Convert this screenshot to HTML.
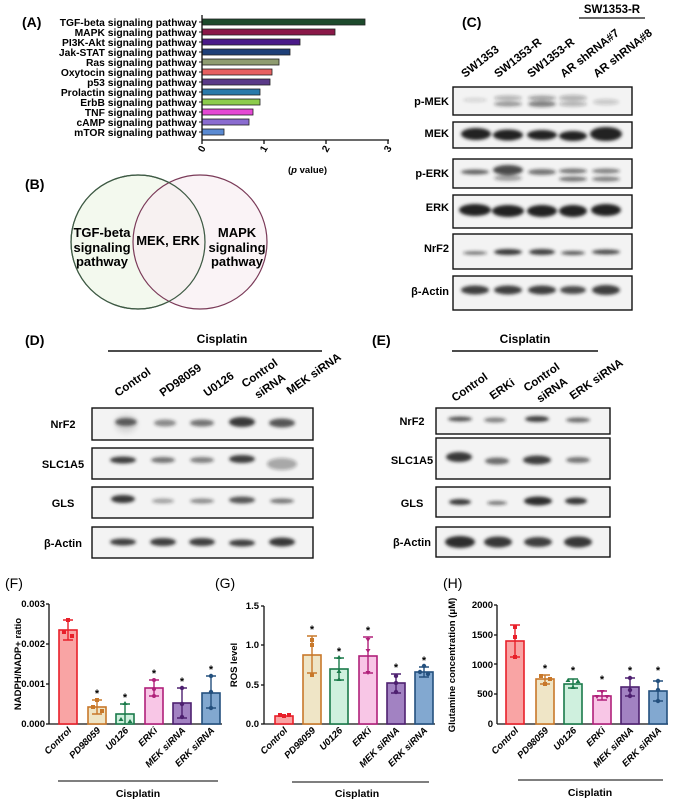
<!DOCTYPE html>
<html><head><meta charset="utf-8"><style>
html,body{margin:0;padding:0;background:#fff;}
svg{display:block;font-family:"Liberation Sans",Arial,sans-serif;font-weight:bold;}
</style></head><body>
<svg width="678" height="800" viewBox="0 0 678 800" xmlns="http://www.w3.org/2000/svg">
<defs>
<filter id="bl" x="-50%" y="-100%" width="200%" height="300%"><feGaussianBlur stdDeviation="1.6"/></filter>
<filter id="bl2" x="-50%" y="-100%" width="200%" height="300%"><feGaussianBlur stdDeviation="2.5"/></filter>
</defs>
<rect width="678" height="800" fill="#fff"/>

<!-- Panel A -->
<text x="22" y="27" font-size="14">(A)</text>
<g font-size="10.3" text-anchor="end">
<text x="197" y="26">TGF-beta signaling pathway</text>
<text x="197" y="36">MAPK signaling pathway</text>
<text x="197" y="46">PI3K-Akt signaling pathway</text>
<text x="197" y="56">Jak-STAT signaling pathway</text>
<text x="197" y="66">Ras signaling pathway</text>
<text x="197" y="76">Oxytocin signaling pathway</text>
<text x="197" y="86">p53 signaling pathway</text>
<text x="197" y="96">Prolactin signaling pathway</text>
<text x="197" y="106">ErbB signaling pathway</text>
<text x="197" y="116">TNF signaling pathway</text>
<text x="197" y="126">cAMP signaling pathway</text>
<text x="197" y="136">mTOR signaling pathway</text>
</g>
<g stroke="#222" stroke-width="0.8">
<rect x="202" y="19" width="163" height="6" fill="#1d4a2c"/>
<rect x="202" y="29" width="133" height="6" fill="#8a1848"/>
<rect x="202" y="39" width="98" height="6" fill="#4a1a88"/>
<rect x="202" y="49" width="88" height="6" fill="#1e3f78"/>
<rect x="202" y="59" width="77" height="6" fill="#8f9c70"/>
<rect x="202" y="69" width="70" height="6" fill="#e66060"/>
<rect x="202" y="79" width="68" height="6" fill="#5a3a88"/>
<rect x="202" y="89" width="58" height="6" fill="#2a7aaa"/>
<rect x="202" y="99" width="58" height="6" fill="#8ccc4c"/>
<rect x="202" y="109" width="51" height="6" fill="#e448d4"/>
<rect x="202" y="119" width="47" height="6" fill="#8a6cd0"/>
<rect x="202" y="129" width="22" height="6" fill="#5a8ad2"/>
</g>
<g stroke="#111" stroke-width="1.3" fill="none">
<line x1="202" y1="15" x2="202" y2="140"/>
<line x1="202" y1="140" x2="389" y2="140"/>
<line x1="202" y1="140" x2="202" y2="144"/><line x1="264" y1="140" x2="264" y2="144"/>
<line x1="326" y1="140" x2="326" y2="144"/><line x1="388" y1="140" x2="388" y2="144"/>
</g>
<g stroke="#111" stroke-width="1">
<line x1="199" y1="22" x2="202" y2="22"/><line x1="199" y1="32" x2="202" y2="32"/><line x1="199" y1="42" x2="202" y2="42"/><line x1="199" y1="52" x2="202" y2="52"/><line x1="199" y1="62" x2="202" y2="62"/><line x1="199" y1="72" x2="202" y2="72"/><line x1="199" y1="82" x2="202" y2="82"/><line x1="199" y1="92" x2="202" y2="92"/><line x1="199" y1="102" x2="202" y2="102"/><line x1="199" y1="112" x2="202" y2="112"/><line x1="199" y1="122" x2="202" y2="122"/><line x1="199" y1="132" x2="202" y2="132"/>
</g>
<g font-size="10">
<text transform="translate(206,148) rotate(-60)" text-anchor="end">0</text>
<text transform="translate(268,148) rotate(-60)" text-anchor="end">1</text>
<text transform="translate(330,148) rotate(-60)" text-anchor="end">2</text>
<text transform="translate(392,148) rotate(-60)" text-anchor="end">3</text>
</g>
<text x="288" y="173" font-size="9.5">(<tspan font-style="italic">p</tspan> value)</text>

<!-- Panel B -->
<text x="25" y="189" font-size="14">(B)</text>
<circle cx="138" cy="242" r="67" fill="#f3f9ee" stroke="#3e5a44" stroke-width="1.2"/>
<circle cx="200" cy="242" r="67" fill="#f8eef2" fill-opacity="0.7" stroke="#7a3a58" stroke-width="1.2"/>
<circle cx="138" cy="242" r="67" fill="none" stroke="#3e5a44" stroke-width="1.2"/>
<g font-size="13" text-anchor="middle">
<text x="102" y="237">TGF-beta</text><text x="102" y="252">signaling</text><text x="102" y="266">pathway</text>
<text x="168" y="245">MEK, ERK</text>
<text x="237" y="237">MAPK</text><text x="237" y="252">signaling</text><text x="237" y="266">pathway</text>
</g>

<!-- Panel C -->
<text x="462" y="27" font-size="14">(C)</text>
<text x="612" y="13" font-size="11.5" text-anchor="middle">SW1353-R</text>
<line x1="579" y1="18" x2="645" y2="18" stroke="#111" stroke-width="1.3"/>
<g font-size="11.5">
<text transform="translate(465,78) rotate(-38)">SW1353</text>
<text transform="translate(498,78) rotate(-38)">SW1353-R</text>
<text transform="translate(531,78) rotate(-38)">SW1353-R</text>
<text transform="translate(564,78) rotate(-38)">AR shRNA#7</text>
<text transform="translate(597,78) rotate(-38)">AR shRNA#8</text>
</g>
<g font-size="11" text-anchor="end">
<text x="449" y="105">p-MEK</text><text x="449" y="137">MEK</text><text x="449" y="177">p-ERK</text>
<text x="449" y="211">ERK</text><text x="449" y="252">NrF2</text><text x="449" y="295">β-Actin</text>
</g>
<g fill="#f3f3f3" stroke="#111" stroke-width="1.4">
<rect x="453" y="87" width="179" height="28"/><rect x="453" y="122" width="179" height="26"/>
<rect x="453" y="159" width="179" height="29"/><rect x="453" y="195" width="179" height="33"/>
<rect x="453" y="234" width="179" height="35"/><rect x="453" y="276" width="179" height="34"/>
</g>
<g filter="url(#bl)" fill="#222">
<ellipse cx="475" cy="100" rx="12" ry="2" opacity="0.15"/><ellipse cx="508" cy="98" rx="14" ry="2.5" opacity="0.3"/><ellipse cx="508" cy="104" rx="14" ry="2.5" opacity="0.45"/><ellipse cx="542" cy="98" rx="14" ry="2.5" opacity="0.4"/><ellipse cx="542" cy="104" rx="14" ry="3" opacity="0.55"/><ellipse cx="573" cy="98" rx="14" ry="3" opacity="0.3"/><ellipse cx="573" cy="104" rx="14" ry="2.5" opacity="0.3"/><ellipse cx="606" cy="102" rx="13" ry="3" opacity="0.2"/>
<ellipse cx="476" cy="134" rx="15" ry="6"/><ellipse cx="508" cy="135" rx="15" ry="5.5"/><ellipse cx="542" cy="135" rx="15" ry="5"/><ellipse cx="573" cy="136" rx="14" ry="5"/><ellipse cx="606" cy="134" rx="16" ry="7"/>
<ellipse cx="475" cy="172" rx="14" ry="2.5" opacity="0.7"/><ellipse cx="508" cy="170" rx="15" ry="5" opacity="0.8"/><ellipse cx="508" cy="178" rx="14" ry="3" opacity="0.4"/><ellipse cx="542" cy="172" rx="14" ry="3" opacity="0.6"/><ellipse cx="573" cy="171" rx="14" ry="2.5" opacity="0.6"/><ellipse cx="573" cy="179" rx="14" ry="2.5" opacity="0.6"/><ellipse cx="606" cy="171" rx="14" ry="2.5" opacity="0.55"/><ellipse cx="606" cy="179" rx="14" ry="2.5" opacity="0.55"/>
<ellipse cx="475" cy="210" rx="16" ry="6"/><ellipse cx="508" cy="211" rx="16" ry="6"/><ellipse cx="542" cy="211" rx="15" ry="6"/><ellipse cx="573" cy="211" rx="14" ry="6"/><ellipse cx="606" cy="210" rx="15" ry="6"/>
<ellipse cx="475" cy="253" rx="12" ry="1.8" opacity="0.6"/><ellipse cx="508" cy="252" rx="14" ry="3" opacity="0.9"/><ellipse cx="542" cy="252" rx="13" ry="3" opacity="0.85"/><ellipse cx="573" cy="253" rx="12" ry="2" opacity="0.75"/><ellipse cx="606" cy="252" rx="14" ry="2.5" opacity="0.8"/>
<ellipse cx="475" cy="290" rx="14" ry="4.5" opacity="0.85"/><ellipse cx="508" cy="290" rx="14" ry="4.5" opacity="0.85"/><ellipse cx="542" cy="290" rx="14" ry="4.5" opacity="0.85"/><ellipse cx="573" cy="290" rx="13" ry="4" opacity="0.8"/><ellipse cx="606" cy="290" rx="14" ry="5" opacity="0.85"/>
</g>

<!-- Panel D -->
<text x="25" y="345" font-size="14">(D)</text>
<text x="222" y="343" font-size="12" text-anchor="middle">Cisplatin</text>
<line x1="108" y1="351" x2="322" y2="351" stroke="#111" stroke-width="1.5"/>
<g font-size="11.5">
<text transform="translate(118,397) rotate(-35)">Control</text>
<text transform="translate(163,397) rotate(-35)">PD98059</text>
<text transform="translate(207,397) rotate(-35)">U0126</text>
<text transform="translate(245,388) rotate(-35)">Control</text>
<text transform="translate(258,399) rotate(-35)">siRNA</text>
<text transform="translate(290,395) rotate(-35)">MEK siRNA</text>
</g>
<g font-size="11" text-anchor="middle">
<text x="63" y="428">NrF2</text><text x="63" y="468">SLC1A5</text><text x="63" y="507">GLS</text><text x="63" y="547">β-Actin</text>
</g>
<g fill="#f3f3f3" stroke="#111" stroke-width="1.4">
<rect x="92" y="408" width="221" height="32"/><rect x="92" y="448" width="221" height="31"/>
<rect x="92" y="487" width="221" height="31"/><rect x="92" y="527" width="221" height="31"/>
</g>
<g filter="url(#bl)" fill="#222">
<ellipse cx="126" cy="424" rx="11" ry="9" opacity="0.12" filter="url(#bl2)"/><ellipse cx="126" cy="422" rx="11" ry="4" opacity="0.7"/><ellipse cx="165" cy="423" rx="11" ry="3.5" opacity="0.5"/><ellipse cx="202" cy="423" rx="12" ry="3.5" opacity="0.6"/><ellipse cx="242" cy="422" rx="13" ry="5" opacity="0.9"/><ellipse cx="282" cy="423" rx="13" ry="4.5" opacity="0.75"/>
<ellipse cx="123" cy="460" rx="13" ry="3.5" opacity="0.85"/><ellipse cx="163" cy="460" rx="12" ry="3" opacity="0.6"/><ellipse cx="202" cy="460" rx="12" ry="3" opacity="0.55"/><ellipse cx="242" cy="459" rx="13" ry="4" opacity="0.85"/><ellipse cx="282" cy="464" rx="15" ry="6" opacity="0.35"/>
<ellipse cx="123" cy="499" rx="12" ry="4" opacity="0.9"/><ellipse cx="163" cy="501" rx="11" ry="2.5" opacity="0.4"/><ellipse cx="202" cy="501" rx="12" ry="2.5" opacity="0.5"/><ellipse cx="242" cy="500" rx="13" ry="3.5" opacity="0.75"/><ellipse cx="282" cy="501" rx="12" ry="2.5" opacity="0.6"/>
<ellipse cx="123" cy="542" rx="13" ry="3.5" opacity="0.85"/><ellipse cx="163" cy="542" rx="13" ry="4" opacity="0.85"/><ellipse cx="202" cy="542" rx="13" ry="4" opacity="0.85"/><ellipse cx="242" cy="543" rx="13" ry="3.5" opacity="0.85"/><ellipse cx="282" cy="542" rx="13" ry="4.5" opacity="0.9"/>
</g>

<!-- Panel E -->
<text x="372" y="345" font-size="14">(E)</text>
<text x="525" y="343" font-size="12" text-anchor="middle">Cisplatin</text>
<line x1="452" y1="351" x2="598" y2="351" stroke="#111" stroke-width="1.5"/>
<g font-size="11.5">
<text transform="translate(455,402) rotate(-35)">Control</text>
<text transform="translate(493,400) rotate(-35)">ERKi</text>
<text transform="translate(527,392) rotate(-35)">Control</text>
<text transform="translate(540,403) rotate(-35)">siRNA</text>
<text transform="translate(573,400) rotate(-35)">ERK siRNA</text>
</g>
<g font-size="11" text-anchor="middle">
<text x="412" y="425">NrF2</text><text x="412" y="464">SLC1A5</text><text x="412" y="507">GLS</text><text x="412" y="546">β-Actin</text>
</g>
<g fill="#f3f3f3" stroke="#111" stroke-width="1.4">
<rect x="436" y="408" width="174" height="26"/><rect x="436" y="438" width="174" height="41"/>
<rect x="436" y="487" width="174" height="30"/><rect x="436" y="527" width="174" height="30"/>
</g>
<g filter="url(#bl)" fill="#222">
<ellipse cx="460" cy="419" rx="12" ry="2.5" opacity="0.75"/><ellipse cx="495" cy="420" rx="11" ry="2.5" opacity="0.55"/><ellipse cx="537" cy="419" rx="12" ry="3" opacity="0.85"/><ellipse cx="578" cy="420" rx="12" ry="2.5" opacity="0.65"/>
<ellipse cx="459" cy="457" rx="13" ry="5" opacity="0.9"/><ellipse cx="497" cy="461" rx="12" ry="3.5" opacity="0.65"/><ellipse cx="537" cy="460" rx="14" ry="4.5" opacity="0.85"/><ellipse cx="578" cy="460" rx="12" ry="3" opacity="0.6"/>
<ellipse cx="460" cy="502" rx="11" ry="3" opacity="0.9"/><ellipse cx="497" cy="503" rx="10" ry="2" opacity="0.6"/><ellipse cx="538" cy="501" rx="14" ry="4.5" opacity="0.95"/><ellipse cx="576" cy="501" rx="11" ry="3.5" opacity="0.9"/>
<ellipse cx="460" cy="542" rx="15" ry="6" opacity="0.95"/><ellipse cx="498" cy="542" rx="14" ry="5.5" opacity="0.9"/><ellipse cx="538" cy="542" rx="14" ry="5" opacity="0.85"/><ellipse cx="578" cy="542" rx="14" ry="5.5" opacity="0.9"/>
</g>

<!-- Panel F -->
<text x="5" y="588" font-size="14" font-weight="normal">(F)</text>
<text transform="translate(21,664) rotate(-90)" font-size="9.5" text-anchor="middle">NADPH/NADP+ ratio</text>
<g font-size="9.5" text-anchor="end">
<text x="45" y="607">0.003</text><text x="45" y="647">0.002</text><text x="45" y="687">0.001</text><text x="45" y="727">0.000</text>
</g>
<g stroke="#111" stroke-width="1.3">
<line x1="49" y1="604" x2="49" y2="724"/><line x1="49" y1="724" x2="222" y2="724"/>
<line x1="46" y1="604" x2="49" y2="604"/><line x1="46" y1="644" x2="49" y2="644"/><line x1="46" y1="684" x2="49" y2="684"/><line x1="46" y1="724" x2="49" y2="724"/>
</g>
<g stroke-width="1.6">
<rect x="59" y="630" width="18" height="94" fill="#f9a4a4" stroke="#e8202a"/>
<rect x="88" y="707" width="18" height="17" fill="#efe5c6" stroke="#c8782a"/>
<rect x="116" y="714" width="18" height="10" fill="#cff0de" stroke="#1a7a4a"/>
<rect x="145" y="688" width="18" height="36" fill="#f8c6e6" stroke="#b0207a"/>
<rect x="173" y="703" width="18" height="21" fill="#a282c2" stroke="#4e2070"/>
<rect x="202" y="693" width="18" height="31" fill="#82a8d0" stroke="#24507e"/>
</g>
<g stroke-width="1.4" fill="none">
<path d="M68 620V640M63 620H73M63 640H73" stroke="#e8202a"/>
<path d="M97 700V714M92 700H102M92 714H102" stroke="#c8782a"/>
<path d="M125 704V724M120 704H130" stroke="#1a7a4a"/>
<path d="M154 680V696M149 680H159M149 696H159" stroke="#b0207a"/>
<path d="M182 688V718M177 688H187M177 718H187" stroke="#4e2070"/>
<path d="M211 676V708M206 676H216M206 708H216" stroke="#24507e"/>
</g>
<g>
<rect x="66" y="618" width="4" height="4" fill="#e8202a"/><rect x="62" y="630" width="4" height="4" fill="#e8202a"/><rect x="70" y="634" width="4" height="4" fill="#e8202a"/>
<rect x="95" y="698" width="4" height="4" fill="#c8782a"/><rect x="91" y="705" width="4" height="4" fill="#c8782a"/><rect x="100" y="709" width="4" height="4" fill="#c8782a"/>
<path d="M125 701l2.5 4h-5z M121 717l2.5 4h-5z M130 719l2.5 4h-5z" fill="#1a7a4a"/>
<circle cx="154" cy="680" r="2" fill="#b0207a"/><circle cx="154" cy="689" r="2" fill="#b0207a"/><circle cx="154" cy="696" r="2" fill="#b0207a"/>
<circle cx="182" cy="688" r="2.2" fill="#4e2070"/><circle cx="182" cy="704" r="2.2" fill="#4e2070"/><circle cx="182" cy="717" r="2.2" fill="#4e2070"/>
<circle cx="211" cy="676" r="2.2" fill="#24507e"/><circle cx="211" cy="692" r="2.2" fill="#24507e"/><circle cx="211" cy="708" r="2.2" fill="#24507e"/>
</g>
<g font-size="11" text-anchor="middle">
<text x="97" y="697">*</text><text x="125" y="701">*</text><text x="154" y="677">*</text><text x="182" y="685">*</text><text x="211" y="673">*</text>
</g>
<g font-size="9.5" font-style="italic" text-anchor="end">
<text transform="translate(72,731) rotate(-45)">Control</text>
<text transform="translate(101,731) rotate(-45)">PD98059</text>
<text transform="translate(129,731) rotate(-45)">U0126</text>
<text transform="translate(158,731) rotate(-45)">ERKi</text>
<text transform="translate(186,731) rotate(-45)">MEK siRNA</text>
<text transform="translate(215,731) rotate(-45)">ERK siRNA</text>
</g>
<line x1="58" y1="781" x2="218" y2="781" stroke="#333" stroke-width="1.3"/>
<text x="138" y="797" font-size="10.5" text-anchor="middle">Cisplatin</text>

<!-- Panel G -->
<text x="215" y="588" font-size="14" font-weight="normal">(G)</text>
<text transform="translate(237,665) rotate(-90)" font-size="9.5" text-anchor="middle">ROS level</text>
<g font-size="9.5" text-anchor="end">
<text x="259" y="609">1.5</text><text x="259" y="648">1.0</text><text x="259" y="688">0.5</text><text x="259" y="727">0.0</text>
</g>
<g stroke="#111" stroke-width="1.3">
<line x1="264" y1="606" x2="264" y2="724"/><line x1="264" y1="724" x2="435" y2="724"/>
<line x1="261" y1="606" x2="264" y2="606"/><line x1="261" y1="645" x2="264" y2="645"/><line x1="261" y1="685" x2="264" y2="685"/><line x1="261" y1="724" x2="264" y2="724"/>
</g>
<g stroke-width="1.6">
<rect x="275" y="716" width="18" height="8" fill="#f9a4a4" stroke="#e8202a"/>
<rect x="303" y="655" width="18" height="69" fill="#efe5c6" stroke="#c8782a"/>
<rect x="330" y="669" width="18" height="55" fill="#cff0de" stroke="#1a7a4a"/>
<rect x="359" y="656" width="18" height="68" fill="#f8c6e6" stroke="#b0207a"/>
<rect x="387" y="683" width="18" height="41" fill="#a282c2" stroke="#4e2070"/>
<rect x="415" y="672" width="18" height="52" fill="#82a8d0" stroke="#24507e"/>
</g>
<g stroke-width="1.4" fill="none">
<path d="M312 636V673M307 636H317M307 673H317" stroke="#c8782a"/>
<path d="M339 658V680M334 658H344M334 680H344" stroke="#1a7a4a"/>
<path d="M368 637V673M363 637H373M363 673H373" stroke="#b0207a"/>
<path d="M396 674V693M391 674H401M391 693H401" stroke="#4e2070"/>
<path d="M424 667V677M419 667H429M419 677H429" stroke="#24507e"/>
</g>
<g>
<rect x="278" y="713" width="4" height="4" fill="#e8202a"/><rect x="282" y="714" width="4" height="4" fill="#e8202a"/><rect x="287" y="713" width="4" height="4" fill="#e8202a"/>
<rect x="310" y="638" width="4" height="4" fill="#c8782a"/><rect x="310" y="643" width="4" height="4" fill="#c8782a"/><rect x="310" y="673" width="4" height="4" fill="#c8782a"/>
<path d="M339 655l2.5 4h-5z M339 669l2.5 4h-5z M339 677l2.5 4h-5z" fill="#1a7a4a"/>
<path d="M368 642l2.5 -4h-5z M368 653l2.5 -4h-5z M368 675l2.5 -4h-5z" fill="#b0207a"/>
<circle cx="396" cy="676" r="2.2" fill="#4e2070"/><circle cx="396" cy="683" r="2.2" fill="#4e2070"/><circle cx="396" cy="692" r="2.2" fill="#4e2070"/>
<circle cx="420" cy="672" r="2.2" fill="#24507e"/><circle cx="424" cy="666" r="2.2" fill="#24507e"/><circle cx="428" cy="674" r="2.2" fill="#24507e"/>
</g>
<g font-size="11" text-anchor="middle">
<text x="312" y="633">*</text><text x="339" y="655">*</text><text x="368" y="634">*</text><text x="396" y="671">*</text><text x="424" y="664">*</text>
</g>
<g font-size="9.5" font-style="italic" text-anchor="end">
<text transform="translate(288,731) rotate(-45)">Control</text>
<text transform="translate(316,731) rotate(-45)">PD98059</text>
<text transform="translate(343,731) rotate(-45)">U0126</text>
<text transform="translate(372,731) rotate(-45)">ERKi</text>
<text transform="translate(400,731) rotate(-45)">MEK siRNA</text>
<text transform="translate(428,731) rotate(-45)">ERK siRNA</text>
</g>
<line x1="292" y1="782" x2="429" y2="782" stroke="#333" stroke-width="1.3"/>
<text x="357" y="797" font-size="10.5" text-anchor="middle">Cisplatin</text>

<!-- Panel H -->
<text x="443" y="588" font-size="14" font-weight="normal">(H)</text>
<text transform="translate(455,665) rotate(-90)" font-size="9.5" text-anchor="middle">Glutamine concentration (μM)</text>
<g font-size="9.5" text-anchor="end">
<text x="493" y="608">2000</text><text x="493" y="638">1500</text><text x="493" y="668">1000</text><text x="493" y="697">500</text><text x="493" y="727">0</text>
</g>
<g stroke="#111" stroke-width="1.3">
<line x1="497" y1="605" x2="497" y2="724"/><line x1="497" y1="724" x2="668" y2="724"/>
<line x1="494" y1="605" x2="497" y2="605"/><line x1="494" y1="635" x2="497" y2="635"/><line x1="494" y1="664" x2="497" y2="664"/><line x1="494" y1="694" x2="497" y2="694"/>
</g>
<g stroke-width="1.6">
<rect x="506" y="641" width="18" height="83" fill="#f9a4a4" stroke="#e8202a"/>
<rect x="536" y="679" width="18" height="45" fill="#efe5c6" stroke="#c8782a"/>
<rect x="564" y="684" width="18" height="40" fill="#cff0de" stroke="#1a7a4a"/>
<rect x="593" y="696" width="18" height="28" fill="#f8c6e6" stroke="#b0207a"/>
<rect x="621" y="687" width="18" height="37" fill="#a282c2" stroke="#4e2070"/>
<rect x="649" y="691" width="18" height="33" fill="#82a8d0" stroke="#24507e"/>
</g>
<g stroke-width="1.4" fill="none">
<path d="M515 625V657M510 625H520M510 657H520" stroke="#e8202a"/>
<path d="M545 675V684M540 675H550M540 684H550" stroke="#c8782a"/>
<path d="M573 679V688M568 679H578M568 688H578" stroke="#1a7a4a"/>
<path d="M602 691V700M597 691H607M597 700H607" stroke="#b0207a"/>
<path d="M630 678V696M625 678H635M625 696H635" stroke="#4e2070"/>
<path d="M658 681V701M653 681H663M653 701H663" stroke="#24507e"/>
</g>
<g>
<rect x="513" y="625" width="4" height="4" fill="#e8202a"/><rect x="513" y="635" width="4" height="4" fill="#e8202a"/><rect x="513" y="655" width="4" height="4" fill="#e8202a"/>
<rect x="539" y="674" width="4" height="4" fill="#c8782a"/><rect x="543" y="682" width="4" height="4" fill="#c8782a"/><rect x="548" y="677" width="4" height="4" fill="#c8782a"/>
<path d="M568 678l2.5 4h-5z M578 679l2.5 4h-5z M573 685l2.5 4h-5z" fill="#1a7a4a"/>
<path d="M602 694l2.5 -4h-5z M597 699l2.5 -4h-5z M607 699l2.5 -4h-5z" fill="#b0207a"/>
<circle cx="630" cy="678" r="2.2" fill="#4e2070"/><circle cx="630" cy="690" r="2.2" fill="#4e2070"/><circle cx="630" cy="696" r="2.2" fill="#4e2070"/>
<circle cx="658" cy="681" r="2.2" fill="#24507e"/><circle cx="658" cy="690" r="2.2" fill="#24507e"/><circle cx="658" cy="701" r="2.2" fill="#24507e"/>
</g>
<g font-size="11" text-anchor="middle">
<text x="545" y="672">*</text><text x="573" y="674">*</text><text x="602" y="683">*</text><text x="630" y="674">*</text><text x="658" y="674">*</text>
</g>
<g font-size="9.5" font-style="italic" text-anchor="end">
<text transform="translate(519,731) rotate(-45)">Control</text>
<text transform="translate(549,731) rotate(-45)">PD98059</text>
<text transform="translate(577,731) rotate(-45)">U0126</text>
<text transform="translate(606,731) rotate(-45)">ERKi</text>
<text transform="translate(634,731) rotate(-45)">MEK siRNA</text>
<text transform="translate(662,731) rotate(-45)">ERK siRNA</text>
</g>
<line x1="518" y1="780" x2="663" y2="780" stroke="#333" stroke-width="1.3"/>
<text x="590" y="796" font-size="10.5" text-anchor="middle">Cisplatin</text>
</svg>
</body></html>
